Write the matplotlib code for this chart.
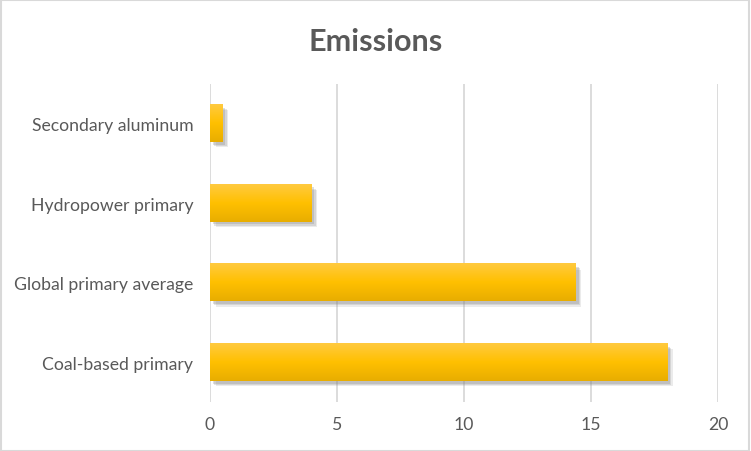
import numpy as np
import matplotlib
matplotlib.use("Agg")
import matplotlib.pyplot as plt
import matplotlib.patheffects as pe
from matplotlib.colors import LinearSegmentedColormap
from matplotlib.patches import Rectangle

categories = ["Coal-based primary", "Global primary average", "Hydropower primary", "Secondary aluminum"]
values = [18.0, 14.4, 4.0, 0.5]
xticks = [0, 5, 10, 15, 20]
title = "Emissions"

plt.rcParams['font.family'] = ['Lato', 'DejaVu Sans']

fig = plt.figure(figsize=(7.51, 4.52), dpi=100)
fig.patches.append(Rectangle((0.001, 0.001), 0.997, 0.996, transform=fig.transFigure,
                             fill=False, edgecolor='#D9D9D9', linewidth=1.5))
ax = fig.add_axes([0.2796, 0.108, 0.6764, 0.705])

cmap = LinearSegmentedColormap.from_list("gold", ["#FFCA3F", "#FFC000", "#E8AD00"])
grad = np.linspace(0, 1, 64).reshape(-1, 1)
h = 0.465
ypos = np.arange(len(categories))
bars = ax.barh(ypos, values, height=h, color='#FFC000', zorder=3)
for b in bars:
    b.set_path_effects([pe.SimplePatchShadow(offset=(4, -4), shadow_rgbFace='#7f7f7f', alpha=0.15),
                        pe.SimplePatchShadow(offset=(3, -3), shadow_rgbFace='#7f7f7f', alpha=0.2),
                        pe.SimplePatchShadow(offset=(2, -2), shadow_rgbFace='#7f7f7f', alpha=0.25),
                        pe.Normal()])
    x0, y0 = b.get_x(), b.get_y()
    w, hh = b.get_width(), b.get_height()
    ax.imshow(grad, cmap=cmap, aspect='auto', extent=(x0, x0 + w, y0, y0 + hh),
              origin='upper', zorder=4, interpolation='bilinear')

ax.set_xlim(0, 20)
ax.set_ylim(-0.5, len(categories) - 0.5)
ax.set_xticks(xticks)
ax.set_xticklabels([str(t) for t in xticks])
ax.set_yticks(ypos)
ax.set_yticklabels(categories)
ax.grid(axis='x', color='#D9D9D9', linewidth=1.3, zorder=0)
ax.set_axisbelow(True)
for s in ax.spines.values():
    s.set_visible(False)
ax.tick_params(axis='y', length=0, labelsize=12.7, colors='#595959', pad=12)
ax.tick_params(axis='x', length=0, labelsize=12.7, colors='#595959', pad=10)
fig.text(0.5, 0.908, title, ha='center', va='center', fontsize=22, fontweight='bold', color='#595959')

fig.savefig("out.png", dpi=100)
